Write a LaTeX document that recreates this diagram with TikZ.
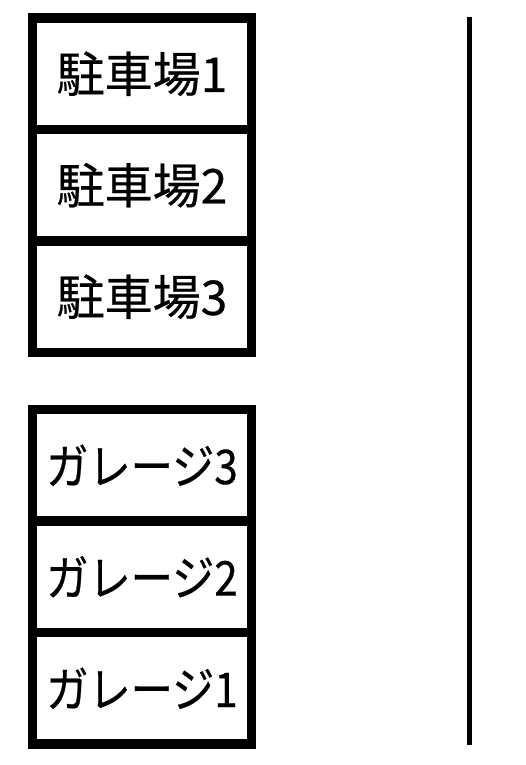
\documentclass[tikz,border=0pt]{standalone}
\usepackage{fontspec}
\newfontfamily\jpfont{Noto Sans CJK JP}[FakeBold=0.5]
\newfontfamily\kanafont{Noto Sans CJK JP}[FakeBold=0.5,FakeStretch=0.88]
\usetikzlibrary{positioning}

\begin{document}
\begin{tikzpicture}[x=1pt,y=1pt,
  bay/.style={draw, line width=9.3pt, outer sep=0pt, minimum width=219pt, minimum height=111.5pt,
    inner sep=0pt, font=\jpfont\fontsize{48pt}{56pt}\selectfont},
  garage/.style={bay, font=\kanafont\fontsize{48pt}{56pt}\selectfont}]
  \useasboundingbox (0,0) rectangle (525,-765);
  \node[bay] (p1) at (142,-73.75) {駐車場1};
  \node[bay, below=0pt of p1] (p2) {駐車場2};
  \node[bay, below=0pt of p2] (p3) {駐車場3};
  \node[garage, below=57pt of p3] (g3) {ガレージ3};
  \node[garage, below=0pt of g3] (g2) {ガレージ2};
  \node[garage, below=0pt of g2] (g1) {ガレージ1};
  \coordinate (railtop) at (469.5,-17.5);
  \coordinate (railbot) at (469.5,-745);
  \draw[line width=5.5pt] (railtop) -- (railbot);
\end{tikzpicture}
\end{document}
